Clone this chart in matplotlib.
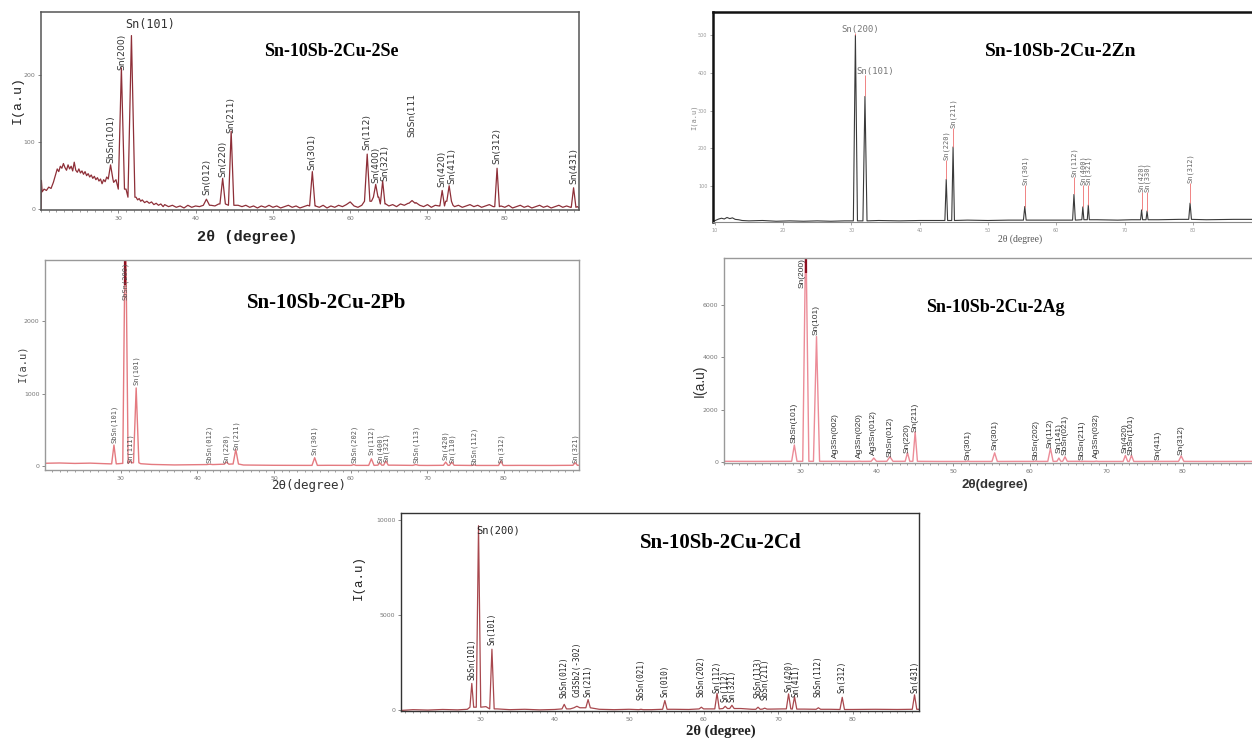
import numpy as np
import matplotlib.pyplot as plt
from matplotlib.ticker import MultipleLocator

# ---------------- Sn-10Sb-2Cu-2Se ----------------
se_bg_tt = [20.0, 20.05, 20.15, 20.4, 20.7, 21.0, 21.3, 21.6, 21.9, 22.1, 22.3, 22.5, 22.7, 22.9,
            23.1, 23.3, 23.5, 23.7, 23.9, 24.1, 24.3, 24.5, 24.7, 24.9, 25.1, 25.3, 25.5, 25.7,
            25.9, 26.1, 26.3, 26.5, 26.7, 26.9, 27.1, 27.3, 27.5, 27.7, 27.9, 28.1, 28.3, 28.5,
            28.7, 29.4, 29.7, 31.0, 32.3, 32.5, 32.7, 32.9, 33.1, 33.4, 33.7, 34.0, 34.3, 34.6,
            34.9, 35.2, 35.5, 35.8, 36.0, 36.5, 37.0, 37.5, 38.0, 38.5, 39.0, 39.5, 40.0, 40.5,
            42.0, 42.5, 43.0, 45.5, 46.0, 46.5, 47.0, 47.5, 48.0, 48.5, 49.0, 49.5, 50.0, 50.5,
            51.0, 51.5, 52.0, 52.5, 53.0, 53.5, 54.0, 54.5, 55.5, 56.0, 56.5, 57.0, 57.5, 58.0,
            58.5, 59.0, 59.5, 60.0, 60.5, 61.0, 61.5, 62.75, 63.7, 64.6, 65.0, 65.5, 66.0, 66.5,
            67.0, 67.5, 68.5, 69.0, 69.5, 70.0, 70.5, 71.0, 71.5, 72.35, 73.3, 73.5, 74.0, 74.5,
            75.0, 75.5, 76.0, 76.5, 77.0, 77.5, 78.0, 78.5, 79.5, 80.0, 80.5, 81.0, 81.5, 82.0,
            82.5, 83.0, 83.5, 84.0, 84.5, 85.0, 85.5, 86.0, 86.5, 87.0, 87.5, 88.0, 88.5, 89.4, 89.6]
se_bg_I = [0, 43, 26, 30, 28, 33, 31, 40, 52, 60, 56, 64, 61, 68,
           62, 58, 66, 60, 64, 57, 70, 58, 55, 60, 54, 57, 52, 56,
           50, 53, 48, 51, 46, 49, 44, 47, 42, 45, 38, 44, 41, 48,
           45, 40, 44, 30, 18, 14, 16, 12, 14, 10, 12, 9, 11, 7,
           9, 6, 8, 4, 7, 4, 6, 3, 5, 2, 6, 3, 5, 4,
           6, 5, 8, 6, 4, 6, 3, 5, 2, 5, 3, 6, 3, 5,
           2, 4, 6, 3, 5, 2, 4, 6, 5, 3, 6, 2, 5, 3,
           6, 4, 7, 11, 5, 3, 6, 12, 18, 8, 5, 7, 4, 8,
           6, 9, 10, 6, 4, 7, 3, 6, 5, 12, 6, 4, 6, 3,
           5, 7, 4, 6, 3, 5, 7, 4, 5, 3, 6, 2, 4, 6,
           3, 5, 2, 4, 6, 3, 5, 2, 4, 6, 3, 5, 3, 4, 2]
se_pk_tt = [29.0, 30.4, 31.7, 41.4, 43.5, 44.6, 55.1, 62.2, 63.3, 64.2, 68.0, 71.9, 72.8, 79.0, 88.9]
se_pk_I = [66, 210, 258, 15, 46, 116, 56, 82, 37, 42, 13, 28, 35, 61, 32]
se_pk_w = [0.3, 0.4, 0.45, 0.4, 0.35, 0.35, 0.35, 0.35, 0.3, 0.3, 0.4, 0.3, 0.3, 0.3, 0.3]
se_labels = ["SbSn(101)", "Sn(200)", "", "Sn(012)", "Sn(220)", "Sn(211)", "Sn(301)", "Sn(112)",
             "Sn(400)", "Sn(321)", "SbSn(111", "Sn(420)", "Sn(411)", "Sn(312)", "Sn(431)"]
se_lab_y = [69, 207, 0, 21, 48, 113, 59, 88, 39, 42, 107, 33, 38, 68, 38]

# ---------------- Sn-10Sb-2Cu-2Zn ----------------
zn_bg_tt = [9.75, 10.2, 10.6, 11.0, 11.4, 11.8, 12.2, 12.6, 13.0, 13.5, 14.0, 15.0, 17.0, 19.0,
            21.0, 23.0, 25.0, 27.0, 29.0, 31.3, 34.0, 37.0, 40.0, 43.0, 47.0, 50.0, 53.0, 57.0,
            60.0, 66.0, 69.0, 71.0, 75.0, 78.0, 82.0, 86.0, 88.5, 91.0, 95.0]
zn_bg_I = [6, 10, 13, 15, 13, 17, 14, 16, 12, 11, 9, 8, 9, 7,
           8, 7, 8, 7, 8, 8, 9, 8, 9, 9, 10, 9, 10, 10,
           10, 11, 10, 11, 11, 12, 11, 12, 12, 13, 13]
zn_pk_tt = [30.6, 32.0, 43.9, 44.9, 55.4, 62.6, 63.9, 64.7, 72.5, 73.3, 79.6, 89.3]
zn_pk_I = [500, 338, 118, 204, 46, 78, 45, 50, 37, 34, 55, 40]
zn_pk_w = [0.3, 0.3, 0.2, 0.2, 0.2, 0.2, 0.15, 0.15, 0.15, 0.15, 0.2, 0.2]
zn_labels = ["", "", "Sn(220)", "Sn(211)", "Sn(301)", "Sn(112)", "Sn(400)", "Sn(321)",
             "Sn(420)", "Sn(330)", "Sn(312)", "Sn("]
zn_lab_y = [505, 395, 170, 255, 103, 125, 103, 103, 85, 85, 109, 98]

# ---------------- Sn-10Sb-2Cu-2Pb ----------------
pb_bg_tt = [20.0, 22.0, 24.0, 26.0, 28.0, 28.6, 29.7, 30.1, 31.6, 32.6, 34.0, 37.0, 41.0, 43.3,
            44.4, 46.0, 50.0, 54.0, 57.0, 60.0, 65.5, 68.0, 70.0, 74.0, 78.0, 82.0, 86.0, 90.0]
pb_bg_I = [38, 42, 36, 40, 32, 30, 32, 36, 45, 32, 22, 15, 20, 25,
           28, 14, 10, 9, 10, 9, 12, 9, 8, 10, 8, 9, 8, 10]
pb_pk_tt = [29.1, 30.6, 31.2, 32.0, 41.6, 43.8, 45.0, 55.3, 60.4, 62.7, 63.8, 64.6, 68.5,
            72.4, 73.2, 76.1, 79.6, 89.3]
pb_pk_I = [290, 3600, 70, 1080, 25, 55, 230, 115, 20, 100, 45, 70, 20, 55, 55, 15, 70, 45]
pb_pk_w = [0.3, 0.35, 0.2, 0.35, 0.4, 0.3, 0.35, 0.35, 0.3, 0.35, 0.25, 0.3, 0.4, 0.3, 0.3,
           0.3, 0.3, 0.3]
pb_labels = ["SbSn(101)", "SbSn(200)", "Sn(111)", "Sn(101)", "SbSn(012)", "Sn(220)", "Sn(211)",
             "Sn(301)", "SbSn(202)", "Sn(112)", "Sn(400)", "Sn(321)", "SbSn(113)", "Sn(420)",
             "Sn(110)", "SbSn(112)", "Sn(312)", "Sn(321)"]
pb_lab_y = [318, 2300, 40, 1120, 40, 40, 220, 150, 40, 150, 40, 55, 40, 80, 40, 15, 40, 40]

# ---------------- Sn-10Sb-2Cu-2Ag ----------------
ag_bg_tt = [20.0, 24.0, 28.0, 33.5, 36.0, 40.5, 43.0, 48.0, 53.0, 58.0, 61.5, 65.5, 70.0,
            75.0, 78.0, 82.0, 86.0, 90.5]
ag_bg_I = [25, 22, 25, 25, 22, 25, 25, 20, 20, 22, 22, 25, 20, 20, 22, 20, 20, 20]
ag_pk_tt = [29.2, 30.7, 32.1, 34.6, 37.7, 39.6, 41.7, 44.0, 45.0, 51.9, 55.4, 60.8, 62.7,
            63.8, 64.6, 66.8, 68.7, 72.5, 73.3, 76.8, 79.8]
ag_pk_I = [650, 9000, 4800, 30, 30, 150, 200, 350, 1150, 30, 350, 30, 520, 150, 200, 20, 30,
           250, 250, 20, 230]
ag_pk_w = [0.35, 0.4, 0.4, 0.3, 0.3, 0.35, 0.4, 0.3, 0.3, 0.3, 0.35, 0.3, 0.35, 0.25, 0.3,
           0.3, 0.3, 0.3, 0.3, 0.3, 0.35]
ag_labels = ["SbSn(101)", "Sn(200)", "Sn(101)", "Ag3Sn(002)", "Ag3Sn(020)", "Ag3Sn(012)",
             "SbSn(012)", "Sn(220)", "Sn(211)", "Sn(301)", "Sn(301)", "SbSn(202)", "Sn(112)",
             "Sn(141)", "SbSn(021)", "SbSn(211)", "Ag3Sn(032)", "Sn(420)", "SbSn(101)",
             "Sn(411)", "Sn(312)"]
ag_lab_y = [730, 6670, 4870, 150, 150, 270, 190, 345, 1150, 80, 460, 80, 540, 345, 270, 80,
            150, 345, 270, 80, 270]

# ---------------- Sn-10Sb-2Cu-2Cd ----------------
cd_bg_tt = [19.4, 21.0, 23.0, 25.0, 27.0, 28.3, 29.3, 30.8, 32.3, 34.0, 36.0, 38.0, 40.0,
            42.1, 43.7, 46.0, 48.0, 50.0, 53.0, 56.0, 58.0, 60.6, 65.0, 66.5, 69.0, 70.6,
            73.5, 77.0, 80.0, 83.0, 86.0, 88.9]
cd_bg_I = [-20, 20, 0, 30, 10, 40, 150, 180, 60, 20, 40, 10, 30,
           60, 120, 40, 20, 40, 20, 40, 30, 60, 80, 40, 50, 60,
           50, 40, 30, 40, 30, 40]
cd_pk_tt = [28.9, 29.8, 31.6, 41.3, 43.0, 44.5, 51.6, 54.8, 59.7, 61.8, 62.9, 63.8, 67.3,
            68.2, 71.4, 72.2, 75.4, 78.6, 88.3]
cd_pk_I = [1400, 9700, 3200, 300, 200, 550, 40, 500, 150, 880, 200, 250, 150, 100, 850, 700,
           120, 670, 800]
cd_pk_w = [0.25, 0.3, 0.3, 0.3, 0.4, 0.3, 0.3, 0.3, 0.3, 0.3, 0.3, 0.3, 0.3, 0.3, 0.3, 0.3,
           0.3, 0.3, 0.3]
cd_labels = ["SbSn(101)", "", "Sn(101)", "SbSn(012)", "Cd3Sb2(-302)", "Sn(211)", "SbSn(021)",
             "Sn(010)", "SbSn(202)", "Sn(112)", "Sn(112)", "Sn(321)", "SbSn(113)", "SbSn(211)",
             "Sn(420)", "Sn(411)", "SbSn(112)", "Sn(312)", "Sn(431)"]
cd_lab_y = [1580, 0, 3420, 615, 700, 700, 525, 700, 700, 877, 437, 437, 615, 525, 965, 700,
            700, 877, 877]


def trace(bg_tt, bg_I, pk_tt, pk_I, pk_w):
    """Background vertices with a narrow triangular profile for every reflection."""
    bg_tt = np.asarray(bg_tt, float)
    bg_I = np.asarray(bg_I, float)
    keep = np.ones(len(bg_tt), bool)
    xs, ys = [], []
    for p, h, w in zip(pk_tt, pk_I, pk_w):
        keep &= np.abs(bg_tt - p) >= w
        foot = bg_I[np.argmin(np.abs(bg_tt - p))]
        xs += [p - w, p, p + w]
        ys += [foot, h, foot]
    xs = np.concatenate([bg_tt[keep], xs])
    ys = np.concatenate([bg_I[keep], ys])
    order = np.argsort(xs, kind="stable")
    return xs[order], ys[order]


W, H = 1252, 740
fig = plt.figure(figsize=(W / 100, H / 100), dpi=100)
fig.patch.set_facecolor("white")


def add_panel(left, top, right, bottom, xlim, ylim, yticks, xticks, spine_col, spine_lw,
              tick_col="#777777", minor=True):
    ax = fig.add_axes([left / W, 1 - bottom / H, (right - left) / W, (bottom - top) / H])
    ax.set_xlim(*xlim)
    ax.set_ylim(*ylim)
    ax.set_xticks(xticks)
    ax.set_yticks(yticks)
    if minor:
        ax.xaxis.set_minor_locator(MultipleLocator(1))
    for s in ax.spines.values():
        s.set_color(spine_col)
        s.set_linewidth(spine_lw)
    ax.tick_params(axis="both", which="major", length=2.5, width=0.6, colors=tick_col,
                   labelsize=4.5, pad=1.5)
    ax.tick_params(axis="x", which="minor", length=1.5, width=0.5, colors=tick_col)
    ax.tick_params(axis="y", which="minor", length=0)
    return ax


def put_labels(ax, pk_tt, labels, lab_y, nudge=None, **kw):
    # nudge: small horizontal shifts (degrees) keeping close neighbours apart
    nudge = nudge or {}
    for i, (p, lab, y) in enumerate(zip(pk_tt, labels, lab_y)):
        if lab:
            ax.text(p + nudge.get(i, 0), y, lab, rotation=90, ha="center", va="bottom", **kw)


serif_bold = dict(family="Liberation Serif", weight="bold")

# Se
ax = add_panel(41, 12, 579, 210, (20, 89.6), (-1, 293), [0, 100, 200],
               [30, 40, 50, 60, 70, 80], "#555555", 1.1)
x, y = trace(se_bg_tt, se_bg_I, se_pk_tt, se_pk_I, se_pk_w)
ax.plot(x, y, color="#8e2f38", lw=0.9)
put_labels(ax, se_pk_tt, se_labels, se_lab_y, nudge={9: 0.25, 12: 0.3}, fontsize=6.6,
           color="#333333", family="DejaVu Sans")
ax.text(34.1, 274, "Sn(101)", ha="center", va="center", fontsize=8.5, color="#333333",
        family="DejaVu Sans Mono")
ax.text(0.54, 0.80, "Sn-10Sb-2Cu-2Se", transform=ax.transAxes, ha="center", va="center",
        fontsize=13, **serif_bold)
fig.text(18 / W, 1 - 100 / H, "I(a.u)", rotation=90, ha="center", va="center", fontsize=9.5,
         family="Liberation Mono", color="#222222")
fig.text(247 / W, 1 - 237 / H, "2θ (degree)", ha="center", va="center", fontsize=11,
         family="Liberation Mono", weight="bold", color="#222222")

# Zn
ax = add_panel(713, 12, 713 + (95 - 9.75) * 6.83, 222, (9.75, 95), (5, 562),
               [100, 200, 300, 400, 500], [10, 20, 30, 40, 50, 60, 70, 80],
               "#111111", 1.8, tick_col="#999999", minor=False)
ax.spines["bottom"].set_linewidth(0.8)
ax.spines["bottom"].set_color("#888888")
ax.tick_params(labelsize=3.5)
x, y = trace(zn_bg_tt, zn_bg_I, zn_pk_tt, zn_pk_I, zn_pk_w)
ax.plot(x, y, color="#3a3a3a", lw=0.8)
ax.vlines(zn_pk_tt, zn_pk_I, zn_lab_y, color="#ee6f6f", lw=0.6)
put_labels(ax, zn_pk_tt, zn_labels, zn_lab_y, fontsize=5, color="#666666",
           family="DejaVu Sans Mono")
ax.text(28.6, 515, "Sn(200)", ha="left", va="center", fontsize=6.5, color="#777777",
        family="DejaVu Sans Mono")
ax.text(30.7, 403, "Sn(101)", ha="left", va="center", fontsize=6.5, color="#777777",
        family="DejaVu Sans Mono")
fig.text(1061 / W, 1 - 52 / H, "Sn-10Sb-2Cu-2Zn", ha="center", va="center", fontsize=14,
         **serif_bold)
fig.text(694 / W, 1 - 117 / H, "I(a.u)", rotation=90, ha="center", va="center", fontsize=5,
         family="DejaVu Sans Mono", color="#888888")
fig.text(1020 / W, 1 - 239 / H, "2θ (degree)", ha="center", va="center", fontsize=7,
         family="Liberation Serif", color="#555555")

# Pb
ax = add_panel(45, 260, 579, 470, (20.1, 89.8), (-55, 2850), [0, 1000, 2000],
               [30, 40, 50, 60, 70, 80], "#999999", 1.0)
x, y = trace(pb_bg_tt, pb_bg_I, pb_pk_tt, pb_pk_I, pb_pk_w)
ax.plot(x, y, color="#e47a80", lw=1.0)
ax.vlines(pb_pk_tt[1], 2500, 2850, color="#8c1020", lw=1.6)
put_labels(ax, pb_pk_tt, pb_labels, pb_lab_y, fontsize=5, color="#555555",
           family="DejaVu Sans Mono")
fig.text(327 / W, 1 - 303 / H, "Sn-10Sb-2Cu-2Pb", ha="center", va="center", fontsize=15,
         **serif_bold)
fig.text(22 / W, 1 - 363 / H, "I(a.u)", rotation=90, ha="center", va="center", fontsize=7.5,
         family="DejaVu Sans Mono", color="#444444")
fig.text(309 / W, 1 - 485 / H, "2θ(degree)", ha="center", va="center", fontsize=9,
         family="DejaVu Sans Mono", color="#333333")

# Ag
ax = add_panel(724, 258, 1263, 463, (20, 90.5), (-40, 7810), [0, 2000, 4000, 6000],
               [30, 40, 50, 60, 70, 80], "#999999", 1.0)
x, y = trace(ag_bg_tt, ag_bg_I, ag_pk_tt, ag_pk_I, ag_pk_w)
ax.plot(x, y, color="#ec8c98", lw=1.0)
ax.vlines(ag_pk_tt[1], 7250, 7810, color="#8c1020", lw=1.6)
for p, lab, yy in zip(ag_pk_tt, ag_labels, ag_lab_y):
    ha = "right" if lab == "Sn(200)" else "center"
    ax.text(p, yy, lab, rotation=90, ha=ha, va="bottom", fontsize=6, color="#333333",
            family="Liberation Sans")
fig.text(995 / W, 1 - 307 / H, "Sn-10Sb-2Cu-2Ag", ha="center", va="center", fontsize=13,
         **serif_bold)
fig.text(700 / W, 1 - 381 / H, "I(a.u)", rotation=90, ha="center", va="center", fontsize=10,
         family="Liberation Sans", color="#333333")
fig.text(995 / W, 1 - 485 / H, "2θ(degree)", ha="center", va="center", fontsize=9.5,
         family="Liberation Sans", weight="bold", color="#333333")

# Cd
ax = add_panel(401, 513, 919, 711, (19.4, 88.9), (-50, 10370), [0, 5000, 10000],
               [30, 40, 50, 60, 70, 80], "#333333", 1.0)
x, y = trace(cd_bg_tt, cd_bg_I, cd_pk_tt, cd_pk_I, cd_pk_w)
ax.plot(x, y, color="#a8484e", lw=0.9)
put_labels(ax, cd_pk_tt, cd_labels, cd_lab_y, nudge={15: 0.25}, fontsize=5.5,
           color="#222222", family="DejaVu Sans Mono")
ax.text(32.4, 9470, "Sn(200)", ha="center", va="center", fontsize=7.5, color="#222222",
        family="DejaVu Sans Mono")
fig.text(721 / W, 1 - 543 / H, "Sn-10Sb-2Cu-2Cd", ha="center", va="center", fontsize=15,
         **serif_bold)
fig.text(359 / W, 1 - 577 / H, "I(a.u)", rotation=90, ha="center", va="center", fontsize=9,
         family="Liberation Mono", color="#222222")
fig.text(721 / W, 1 - 731 / H, "2θ (degree)", ha="center", va="center", fontsize=10.5,
         family="Liberation Serif", weight="bold", color="#222222")

fig.savefig("out.png", dpi=100, facecolor="white")
